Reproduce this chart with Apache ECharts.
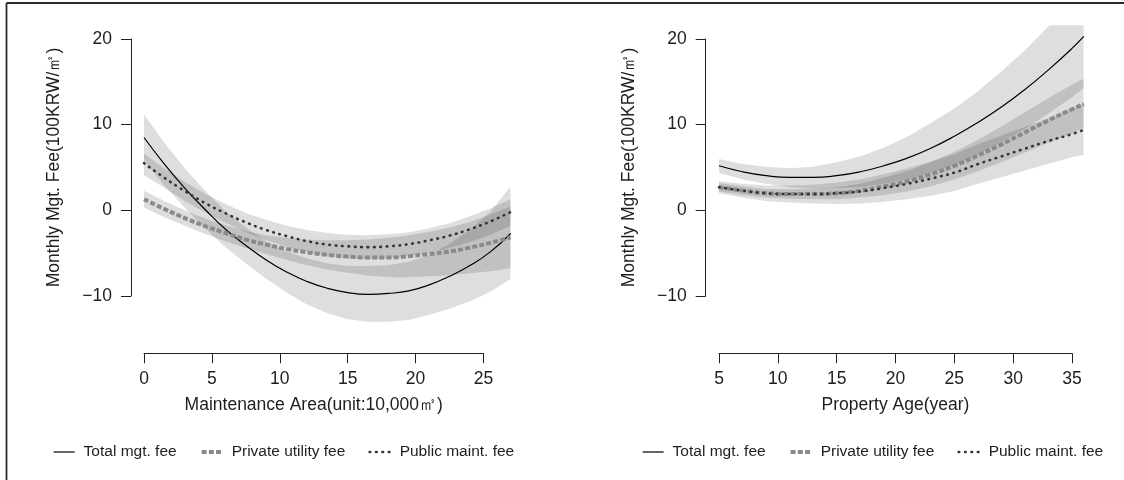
<!DOCTYPE html>
<html>
<head>
<meta charset="utf-8">
<script src="https://cdn.jsdelivr.net/npm/echarts@6/dist/echarts.min.js"></script>
<style>
  html, body { margin: 0; padding: 0; background: #fff; }
  #chart { width: 1124px; height: 480px; }
</style>
</head>
<body>
<div id="chart"></div>
<script>
// ---------- fitted curves: maintenance area (unit: 10,000 m2) ----------
const areaX = [0, 1.5, 3, 4.5, 6, 7.5, 9, 10.5, 12, 13.5, 15, 16.5, 18, 19.5, 21, 22.5, 24, 25.5, 27];

const areaTotal   = [8.5, 5.4, 2.6, 0.1, -2.2, -4.1, -5.8, -7.2, -8.3, -9.1, -9.6, -9.8, -9.7, -9.4, -8.7, -7.7, -6.45, -4.85, -2.7];
const areaTotalLo = [5.8, 2.9, 0.3, -2.1, -4.3, -6.2, -8.0, -9.6, -11.0, -12.0, -12.7, -13.0, -13.0, -12.8, -12.2, -11.5, -10.6, -9.5, -8.0];
const areaTotalHi = [11.2, 7.9, 4.9, 2.3, -0.1, -2.0, -3.6, -4.8, -5.6, -6.2, -6.5, -6.5, -6.4, -6.0, -5.2, -3.9, -2.3, -0.2, 2.8];

const areaPrivate   = [1.3, 0.15, -0.9, -1.85, -2.65, -3.4, -4.0, -4.5, -4.9, -5.2, -5.4, -5.5, -5.5, -5.35, -5.1, -4.8, -4.35, -3.8, -3.15];
const areaPrivateLo = [0.3, -0.8, -1.8, -2.75, -3.6, -4.4, -5.1, -5.8, -6.4, -6.9, -7.3, -7.6, -7.8, -7.8, -7.7, -7.6, -7.35, -7.1, -6.75];
const areaPrivateHi = [2.3, 1.1, 0.0, -0.95, -1.7, -2.4, -2.9, -3.2, -3.4, -3.5, -3.5, -3.4, -3.2, -2.9, -2.5, -2.0, -1.35, -0.5, 0.45];

const areaPublic   = [5.5, 3.8, 2.25, 0.85, -0.35, -1.4, -2.3, -3.0, -3.6, -4.0, -4.2, -4.3, -4.2, -3.95, -3.5, -2.95, -2.2, -1.3, -0.2];
const areaPublicLo = [4.1, 2.65, 1.1, -0.25, -1.45, -2.55, -3.5, -4.25, -4.9, -5.35, -5.6, -5.7, -5.6, -5.35, -4.95, -4.4, -3.7, -2.85, -1.8];
const areaPublicHi = [6.6, 4.9, 3.35, 1.95, 0.75, -0.3, -1.1, -1.8, -2.3, -2.65, -2.85, -2.9, -2.8, -2.55, -2.1, -1.5, -0.7, 0.25, 1.3];

// ---------- fitted curves: property age (year) ----------
const ageX = [5, 7, 9, 11, 13, 15, 17, 19, 21, 23, 25, 27, 29, 31, 33, 35, 36];

const ageTotal   = [5.2, 4.5, 4.05, 3.85, 3.85, 4.05, 4.5, 5.2, 6.1, 7.25, 8.65, 10.25, 12.05, 14.1, 16.4, 18.9, 20.3];
const ageTotalLo = [4.4, 3.6, 3.1, 2.7, 2.5, 2.6, 2.7, 3.1, 3.6, 4.4, 5.3, 6.5, 8.0, 9.5, 11.3, 13.2, 14.3];
const ageTotalHi = [6.0, 5.4, 5.1, 4.9, 5.1, 5.6, 6.3, 7.3, 8.6, 10.2, 11.9, 13.9, 16.2, 18.7, 21.5, 24.6, 26.3];

const agePrivate   = [2.7, 2.3, 2.0, 1.9, 1.9, 2.0, 2.3, 2.8, 3.4, 4.2, 5.2, 6.4, 7.7, 9.1, 10.5, 11.8, 12.4];
const agePrivateLo = [2.2, 1.8, 1.5, 1.35, 1.3, 1.3, 1.5, 1.8, 2.2, 2.8, 3.6, 4.55, 5.6, 6.75, 7.9, 8.95, 9.6];
const agePrivateHi = [3.2, 2.8, 2.5, 2.45, 2.5, 2.7, 3.1, 3.8, 4.6, 5.6, 6.8, 8.25, 9.8, 11.45, 13.1, 14.65, 15.4];

const agePublic   = [2.7, 2.3, 2.0, 1.9, 1.9, 2.0, 2.2, 2.6, 3.1, 3.7, 4.4, 5.4, 6.3, 7.2, 8.1, 8.9, 9.4];
const agePublicLo = [2.0, 1.5, 1.1, 0.9, 0.8, 0.75, 0.8, 1.0, 1.3, 1.7, 2.25, 3.1, 3.85, 4.65, 5.45, 6.2, 6.5];
const agePublicHi = [3.4, 3.1, 2.9, 2.9, 3.0, 3.25, 3.6, 4.2, 4.9, 5.7, 6.55, 7.7, 8.75, 9.75, 10.75, 11.9, 12.5];

// ---------- axis ticks and names ----------
const feeTicks  = [-10, 0, 10, 20];
const areaTicks = [0, 5, 10, 15, 20, 25];
const ageTicks  = [5, 10, 15, 20, 25, 30, 35];
const seriesNames = ['Total mgt. fee', 'Private utility fee', 'Public maint. fee'];
const feeTitle = 'Monthly Mgt. Fee(100KRW/㎡)';

// ---------- layout ----------
const FONT = '"Liberation Sans", Arial, sans-serif';
const TEXT = '#1e1e1e';
const AXIS_FONT = 17.5;
const feeTopPx = 39;                  // pixel row of the top tick
const feeSpanPx = 257;                // top tick to bottom tick
const pxPerFee = feeSpanPx / (feeTicks[feeTicks.length - 1] - feeTicks[0]);
const feeView = [-16, 21.6];          // visible range of the plotting area
const xAxisRow = 353.3;               // pixel row of the horizontal axes

const panels = [
  {
    axisLeft: 131, x0: 144, pxPerX: 13.58, xEnd: 27, ticks: areaTicks,
    title: 'Maintenance Area(unit:10,000㎡)', legendLeft: 53,
    xs: areaX,
    lines: [areaTotal, areaPrivate, areaPublic],
    bands: [[areaTotalLo, areaTotalHi], [areaPrivateLo, areaPrivateHi], [areaPublicLo, areaPublicHi]]
  },
  {
    axisLeft: 705.7, x0: 719, pxPerX: 11.767, xEnd: 36, ticks: ageTicks,
    title: 'Property Age(year)', legendLeft: 642,
    xs: ageX,
    lines: [ageTotal, agePrivate, agePublic],
    bands: [[ageTotalLo, ageTotalHi], [agePrivateLo, agePrivateHi], [agePublicLo, agePublicHi]]
  }
];

const lineStyles = [
  { color: '#000', width: 1.2, type: 'solid' },
  { color: '#8a8a8a', width: 4, type: [5, 2.2], cap: 'butt' },
  { color: '#333', width: 2.6, type: [0.6, 5.8], cap: 'round' }
];
const bandFill = 'rgba(0,0,0,0.13)';
const minusSign = v => String(v).replace('-', '\u2212');

const grid = [], xAxis = [], yAxis = [], series = [], legend = [];

panels.forEach((p, i) => {
  const gData = grid.length;
  const lastTick = p.ticks[p.ticks.length - 1];

  // plotting area (axes hidden)
  grid.push({
    left: p.x0, width: (p.xEnd - p.ticks[0]) * p.pxPerX,
    top: feeTopPx - (feeView[1] - feeTicks[feeTicks.length - 1]) * pxPerFee,
    height: (feeView[1] - feeView[0]) * pxPerFee
  });
  xAxis.push({ gridIndex: gData, type: 'value', min: p.ticks[0], max: p.xEnd, show: false });
  yAxis.push({ gridIndex: gData, type: 'value', min: feeView[0], max: feeView[1], show: false });

  // vertical axis, drawn only over the tick range
  const gY = grid.length;
  grid.push({ left: p.axisLeft, width: 10, top: feeTopPx, height: feeSpanPx });
  xAxis.push({ gridIndex: gY, type: 'value', min: 0, max: 1, show: false });
  yAxis.push({
    gridIndex: gY, type: 'value', position: 'left',
    min: feeTicks[0], max: feeTicks[feeTicks.length - 1], interval: 10,
    splitLine: { show: false },
    axisLine: { show: true, lineStyle: { color: '#222', width: 1 } },
    axisTick: { show: true, length: 10, lineStyle: { color: '#222', width: 1 } },
    axisLabel: { color: TEXT, fontSize: AXIS_FONT, fontFamily: FONT, margin: 19, formatter: minusSign },
    name: feeTitle, nameLocation: 'middle', nameRotate: 90, nameGap: 68,
    nameTextStyle: { color: TEXT, fontSize: AXIS_FONT, fontFamily: FONT }
  });

  // horizontal axis, drawn only over the tick range
  const gX = grid.length;
  grid.push({ left: p.x0, width: (lastTick - p.ticks[0]) * p.pxPerX, top: xAxisRow - 10, height: 10 });
  xAxis.push({
    gridIndex: gX, type: 'value', position: 'bottom',
    min: p.ticks[0], max: lastTick, interval: 5,
    splitLine: { show: false },
    axisLine: { show: true, lineStyle: { color: '#222', width: 1 } },
    axisTick: { show: true, length: 10, lineStyle: { color: '#222', width: 1 } },
    axisLabel: { color: TEXT, fontSize: AXIS_FONT, fontFamily: FONT, margin: 17 },
    name: p.title, nameLocation: 'middle', nameGap: 43,
    nameTextStyle: { color: TEXT, fontSize: AXIS_FONT, fontFamily: FONT }
  });
  yAxis.push({ gridIndex: gX, type: 'value', min: 0, max: 1, show: false });

  // confidence bands
  p.bands.forEach(([lo, hi]) => {
    series.push({
      type: 'custom', xAxisIndex: gData, yAxisIndex: gData, silent: true, z: 1,
      data: [[p.xs[0], lo[0]]],
      renderItem: (params, api) => {
        const pts = [];
        p.xs.forEach((x, k) => pts.push(api.coord([x, hi[k]])));
        for (let k = p.xs.length - 1; k >= 0; k--) pts.push(api.coord([p.xs[k], lo[k]]));
        const cs = params.coordSys;
        return {
          type: 'polygon', shape: { points: pts }, style: { fill: bandFill },
          clipPath: { type: 'rect', shape: { x: cs.x, y: cs.y, width: cs.width, height: cs.height } }
        };
      }
    });
  });

  // fitted curves
  p.lines.forEach((vals, k) => {
    series.push({
      type: 'line', name: seriesNames[k], xAxisIndex: gData, yAxisIndex: gData,
      data: p.xs.map((x, j) => [x, vals[j]]),
      smooth: true, symbol: 'none', showSymbol: false, clip: true, silent: true, z: 3 + k,
      itemStyle: { color: lineStyles[k].color },
      lineStyle: lineStyles[k]
    });
  });

  legend.push({
    data: seriesNames, left: p.legendLeft, top: 444, orient: 'horizontal', padding: 0,
    itemWidth: 21, itemHeight: 14, itemGap: 23, selectedMode: false,
    itemStyle: { color: 'rgba(0,0,0,0)', borderWidth: 0, opacity: 0 },
    lineStyle: { width: 'inherit' },
    textStyle: { color: TEXT, fontSize: 15.5, fontFamily: FONT, padding: [0, 0, 0, 4] }
  });
});

const chart = echarts.init(document.getElementById('chart'), null, { renderer: 'canvas' });
chart.setOption({
  backgroundColor: '#fff',
  animation: false,
  textStyle: { fontFamily: FONT },
  grid, xAxis, yAxis, series, legend,
  graphic: [
    { type: 'line', shape: { x1: 6.5, y1: 3, x2: 1124, y2: 3 }, style: { stroke: '#2a2a2a', lineWidth: 1.8 } },
    { type: 'line', shape: { x1: 6.5, y1: 3, x2: 6.5, y2: 480 }, style: { stroke: '#2a2a2a', lineWidth: 1.8 } }
  ]
});
</script>
</body>
</html>
